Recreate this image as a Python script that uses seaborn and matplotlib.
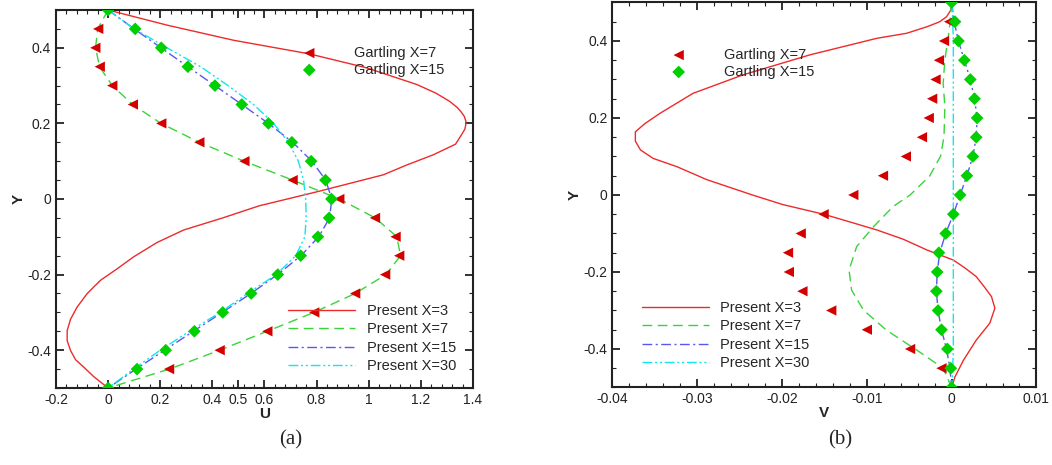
import seaborn as sns
import matplotlib.pyplot as plt
from matplotlib.ticker import MultipleLocator, FixedLocator

sns.set_style("ticks")
plt.rcParams['font.family'] = ['Liberation Sans', 'DejaVu Sans']

# ---------------- panel (a): U profiles ----------------
y_pts = [0.5, 0.45, 0.4, 0.35, 0.3, 0.25, 0.2, 0.15, 0.1, 0.05, 0.0,
         -0.05, -0.1, -0.15, -0.2, -0.25, -0.3, -0.35, -0.4, -0.45, -0.5]
y_inner = [0.45, 0.4, 0.35, 0.3, 0.25, 0.2, 0.15, 0.1, 0.05, 0.0,
           -0.05, -0.1, -0.15, -0.2, -0.25, -0.3, -0.35, -0.4, -0.45]

gart7_u = [-0.038, -0.049, -0.032, 0.016, 0.095, 0.204, 0.350, 0.523, 0.708, 0.887,
           1.024, 1.103, 1.117, 1.063, 0.948, 0.791, 0.611, 0.428, 0.234]
gart15_u = [0.0, 0.104, 0.204, 0.306, 0.410, 0.513, 0.615, 0.705, 0.779, 0.834, 0.857,
            0.848, 0.805, 0.739, 0.651, 0.549, 0.440, 0.331, 0.221, 0.111, 0.0]

y_x3 = [0.5, 0.46, 0.42, 0.384, 0.347, 0.303, 0.28, 0.258, 0.243, 0.23, 0.218, 0.205, 0.195,
        0.185, 0.17, 0.145, 0.117, 0.09, 0.064, 0.019, -0.018, -0.05, -0.082, -0.115, -0.153,
        -0.185, -0.215, -0.25, -0.286, -0.318, -0.348, -0.375, -0.401, -0.425, -0.445, -0.47, -0.5]
u_x3 = [0.0, 0.226, 0.481, 0.772, 0.992, 1.184, 1.258, 1.311, 1.338, 1.355, 1.367, 1.373, 1.372,
        1.369, 1.356, 1.333, 1.248, 1.146, 1.056, 0.801, 0.58, 0.44, 0.290, 0.188, 0.098,
        0.034, -0.029, -0.08, -0.119, -0.144, -0.157, -0.157, -0.144, -0.125, -0.093, -0.055, 0.0]
u_x7 = [0.0, -0.040, -0.048, -0.033, 0.016, 0.094, 0.203, 0.350, 0.522, 0.708, 0.887,
        1.025, 1.108, 1.122, 1.066, 0.948, 0.790, 0.610, 0.428, 0.235, 0.0]
u_x15 = [0.0, 0.100, 0.203, 0.306, 0.410, 0.513, 0.615, 0.708, 0.782, 0.835, 0.858,
         0.850, 0.808, 0.740, 0.650, 0.548, 0.438, 0.327, 0.217, 0.107, 0.0]
u_x30 = [0.0, 0.100, 0.226, 0.355, 0.460, 0.558, 0.635, 0.692, 0.730, 0.750, 0.758,
         0.760, 0.755, 0.720, 0.645, 0.535, 0.430, 0.312, 0.200, 0.098, 0.0]

# ---------------- panel (b): V profiles ----------------
gart7_v = [-0.0003, -0.0009, -0.0015, -0.0019, -0.0023, -0.0027, -0.0035, -0.0054, -0.0081,
           -0.0116, -0.0151, -0.0178, -0.0193, -0.0192, -0.0176, -0.0142, -0.0100, -0.0049, -0.0012]
gart15_v = [0.0, 0.0004, 0.0008, 0.0015, 0.0022, 0.0027, 0.0030, 0.0029, 0.0025, 0.0018, 0.0010,
            0.0002, -0.0007, -0.0015, -0.0017, -0.0018, -0.0016, -0.0012, -0.0005, -0.0001, 0.0]

y_v3 = [0.5, 0.48, 0.463, 0.45, 0.437, 0.42, 0.407, 0.364, 0.312, 0.264, 0.212, 0.185, 0.164,
        0.14, 0.117, 0.095, 0.0735, 0.04, 0.0, -0.025, -0.05, -0.07, -0.091, -0.115, -0.143,
        -0.169, -0.19, -0.212, -0.24, -0.264, -0.294, -0.333, -0.377, -0.429, -0.472, -0.5]
v_x3 = [0.0, -0.0001, -0.0006, -0.0014, -0.0029, -0.0053, -0.0088, -0.0167, -0.0246, -0.0305,
        -0.0344, -0.0362, -0.0373, -0.0373, -0.0367, -0.0352, -0.0324, -0.0289, -0.0235, -0.0199,
        -0.0151, -0.0120, -0.0088, -0.0057, -0.0029, 0.0002, 0.0016, 0.0029, 0.0039, 0.0047,
        0.0051, 0.0045, 0.0029, 0.0014, 0.0004, 0.0]
y_v7 = [0.5, 0.475, 0.445, 0.41, 0.351, 0.29, 0.23, 0.152, 0.101, 0.049, 0.0, -0.03, -0.082,
        -0.134, -0.195, -0.247, -0.299, -0.351, -0.403, -0.45, -0.5]
v_x7 = [0.0, -0.0001, -0.0002, -0.0004, -0.0008, -0.0010, -0.0008, -0.0009, -0.0013, -0.0026,
        -0.0049, -0.0069, -0.0092, -0.0112, -0.0121, -0.0118, -0.0104, -0.0077, -0.0041, -0.0010, 0.0]
v_x15 = [0.0, 0.0003, 0.0008, 0.0015, 0.0022, 0.0027, 0.0030, 0.0029, 0.0025, 0.0018, 0.0010,
         0.0002, -0.0007, -0.0014, -0.0017, -0.0018, -0.0016, -0.0012, -0.0006, -0.0002, 0.0]
y_v30 = [0.5, 0.47, 0.4, 0.0, -0.4, -0.47, -0.5]
v_x30 = [0.0, 0.0001, 0.0002, 0.0002, 0.0002, 0.0001, 0.0]

RED_LINE = "#ee2a2a"
RED_MK = "#d40000"
GREEN_LINE = "#3ad43a"
GREEN_MK = "#00d000"
BLUE = "#5858f0"
CYAN = "#10e6ee"

present = [("Present X=3", RED_LINE, "-"),
           ("Present X=7", GREEN_LINE, (0, (7, 4))),
           ("Present X=15", BLUE, (0, (7, 2.5, 1.5, 2.5))),
           ("Present X=30", CYAN, (0, (7, 2, 1.5, 2, 1.5, 2)))]

fig = plt.figure(figsize=(10.52, 4.65), dpi=100)
ax1 = fig.add_axes([0.0532, 0.1656, 0.3964, 0.8129])
ax2 = fig.add_axes([0.5822, 0.1667, 0.4030, 0.8280])


def draw(ax, curves, g7x, g7y, g15x, g15y):
    for (label, color, ls), (cx, cy) in zip(present, curves):
        sns.lineplot(x=cx, y=cy, sort=False, estimator=None, color=color,
                     linestyle=ls, lw=1.0, label=label, ax=ax)
    sns.scatterplot(x=g7x, y=g7y, marker="<", color=RED_MK, s=55, edgecolor="none",
                    label="Gartling X=7", ax=ax, zorder=4)
    sns.scatterplot(x=g15x, y=g15y, marker="D", color=GREEN_MK, s=42, edgecolor="none",
                    label="Gartling X=15", ax=ax, zorder=5)


draw(ax1, [(u_x3, y_x3), (u_x7, y_pts), (u_x15, y_pts), (u_x30, y_pts)],
     gart7_u, y_inner, gart15_u, y_pts)
draw(ax2, [(v_x3, y_v3), (v_x7, y_v7), (v_x15, y_pts), (v_x30, y_v30)],
     gart7_v, y_inner, gart15_v, y_pts)

ax1.set_xlim(-0.2, 1.4)
ax1.xaxis.set_major_locator(FixedLocator([-0.2, 0, 0.2, 0.4, 0.5, 0.6, 0.8, 1.0, 1.2, 1.4]))
ax1.set_xticklabels(["-0.2", "0", "0.2", "0.4", "0.5", "0.6", "0.8", "1", "1.2", "1.4"])
ax1.xaxis.set_minor_locator(MultipleLocator(0.04))
ax1.set_xlabel("U", fontweight="bold", fontsize=11, labelpad=0)

ax2.set_xlim(-0.04, 0.01)
ax2.set_xticks([-0.04, -0.03, -0.02, -0.01, 0, 0.01])
ax2.set_xticklabels(["-0.04", "-0.03", "-0.02", "-0.01", "0", "0.01"])
ax2.xaxis.set_minor_locator(MultipleLocator(0.002))
ax2.set_xlabel("V", fontweight="bold", fontsize=11, labelpad=0)

for ax in (ax1, ax2):
    ax.set_ylim(-0.5, 0.5)
    ax.set_yticks([-0.4, -0.2, 0, 0.2, 0.4])
    ax.set_yticklabels(["-0.4", "-0.2", "0", "0.2", "0.4"])
    ax.yaxis.set_minor_locator(MultipleLocator(0.05))
    ax.set_ylabel("Y", fontweight="bold", fontsize=11, labelpad=1)
    ax.tick_params(which="both", direction="in", top=True, right=True, labelsize=10,
                   colors="#222222")
    ax.tick_params(which="major", length=6, width=1.3)
    ax.tick_params(which="minor", length=3, width=0.8)
    for sp in ax.spines.values():
        sp.set_linewidth(1.5)
        sp.set_color("#222222")

    handles, labels = ax.get_legend_handles_labels()
    gh = [h for h, l in zip(handles, labels) if l.startswith("Gartling")]
    gl = [l for l in labels if l.startswith("Gartling")]
    ph = [h for h, l in zip(handles, labels) if l.startswith("Present")]
    pl = [l for l in labels if l.startswith("Present")]
    if ax is ax1:
        g_anchor, p_anchor = (0.527, 0.905), (0.556, 0.222)
    else:
        g_anchor, p_anchor = (0.077, 0.882), (0.069, 0.225)
    leg_g = ax.legend(gh, gl, loc="upper left", bbox_to_anchor=g_anchor, frameon=False,
                      fontsize=10.5, handlelength=4.6, handletextpad=0.8,
                      labelspacing=0.2, borderpad=0, borderaxespad=0)
    ax.add_artist(leg_g)
    ax.legend(ph, pl, loc="upper left", bbox_to_anchor=p_anchor, frameon=False,
              fontsize=10.5, handlelength=4.6, handletextpad=0.8,
              labelspacing=0.3, borderpad=0, borderaxespad=0)

fig.text(0.276, 0.055, "(a)", family=["Liberation Serif", "DejaVu Serif"], fontsize=15,
         ha="center", va="center")
fig.text(0.799, 0.055, "(b)", family=["Liberation Serif", "DejaVu Serif"], fontsize=15,
         ha="center", va="center")

plt.savefig("out.png", dpi=100)
